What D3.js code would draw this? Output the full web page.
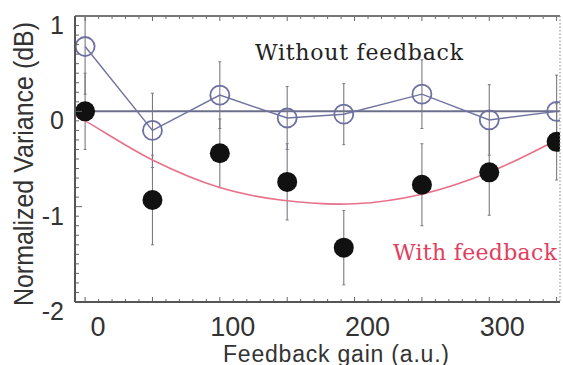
<!DOCTYPE html>
<html>
<head>
<meta charset="utf-8">
<script src="https://cdn.jsdelivr.net/npm/d3@7"></script>
<style>
  html, body { margin: 0; padding: 0; background: #fff; }
  svg { display: block; }
</style>
</head>
<body>
<svg id="chart" width="563" height="365"></svg>
<script>
// Feedback gain values at which the variance was measured
const gain = [0, 50, 100, 150, 192, 250, 300, 350];

// Normalized variance without feedback (open circles) and its error
const withoutFb = [0.68, -0.20, 0.17, -0.07, -0.03, 0.18, -0.09, 0.00];
const withoutErr = [0.50, 0.39, 0.35, 0.33, 0.32, 0.36, 0.37, 0.38];

// Normalized variance with feedback (filled circles) and its error
const withFb = [0.0, -0.93, -0.44, -0.74, -1.43, -0.77, -0.64, -0.32];
const withErr = [0.40, 0.47, 0.36, 0.40, 0.39, 0.43, 0.45, 0.40];

// Expected curve with feedback
const curveGain = [-7, 0, 50, 100, 145, 200, 250, 300, 350];
const curveVal = [-0.05, -0.10, -0.51, -0.80, -0.93, -0.97, -0.87, -0.64, -0.30];

// Axis ticks
const xTicks = [0, 100, 200, 300];
const yTicks = [1, 0, -1, -2];

const svg = d3.select("#chart");
const plotLeft = 75, plotRight = 560, plotTop = 16, plotBottom = 302;

const x = d3.scaleLinear().domain([-7.5, 352.5]).range([plotLeft, plotRight]);
const y = d3.scaleLinear().domain([-2, 1]).range([plotBottom, plotTop]);

svg.append("defs").append("clipPath").attr("id", "plotClip")
  .append("rect").attr("x", plotLeft).attr("y", plotTop)
  .attr("width", plotRight - plotLeft).attr("height", plotBottom - plotTop);

const plot = svg.append("g").attr("clip-path", "url(#plotClip)");

// minor / major ticks on the frame, pointing inward
const frame = svg.append("g").attr("stroke", "#666").attr("stroke-width", 1);
d3.range(-2, 1.001, 0.1).forEach(v => {
  const major = Math.abs(v - Math.round(v)) < 1e-6;
  frame.append("line").attr("x1", plotLeft).attr("x2", plotLeft + (major ? 7 : 4))
    .attr("y1", y(v)).attr("y2", y(v));
});
d3.range(0, 351, 10).forEach(v => {
  const major = v % 50 === 0;
  frame.append("line").attr("x1", x(v)).attr("x2", x(v))
    .attr("y1", plotTop).attr("y2", plotTop + (major ? 5 : 3));
  frame.append("line").attr("x1", x(v)).attr("x2", x(v))
    .attr("y1", plotBottom).attr("y2", plotBottom - (major ? 5 : 3));
});

// frame lines
svg.append("line").attr("x1", plotLeft).attr("x2", plotRight).attr("y1", plotTop).attr("y2", plotTop)
  .attr("stroke", "#777").attr("stroke-width", 2);
svg.append("line").attr("x1", plotLeft).attr("x2", plotRight).attr("y1", plotBottom).attr("y2", plotBottom)
  .attr("stroke", "#555").attr("stroke-width", 2);
svg.append("line").attr("x1", plotLeft).attr("x2", plotLeft).attr("y1", plotTop).attr("y2", plotBottom)
  .attr("stroke", "#555").attr("stroke-width", 2);
svg.append("line").attr("x1", plotRight).attr("x2", plotRight).attr("y1", plotTop).attr("y2", plotBottom)
  .attr("stroke", "#999").attr("stroke-width", 1.2).attr("stroke-dasharray", "1.5,2");

// zero reference line
plot.append("line").attr("x1", plotLeft).attr("x2", plotRight)
  .attr("y1", y(0)).attr("y2", y(0))
  .attr("stroke", "#6c6f8a").attr("stroke-width", 2);

// error bars
function errorBars(vals, errs) {
  gain.forEach((g, i) => {
    const gx = x(g);
    plot.append("line").attr("x1", gx).attr("x2", gx)
      .attr("y1", y(vals[i] + errs[i])).attr("y2", y(vals[i] - errs[i]))
      .attr("stroke", "#7a7a80").attr("stroke-width", 1.1);
    [vals[i] + errs[i], vals[i] - errs[i]].forEach(e => {
      plot.append("line").attr("x1", gx - 1.5).attr("x2", gx + 1.5)
        .attr("y1", y(e)).attr("y2", y(e))
        .attr("stroke", "#7a7a80").attr("stroke-width", 1);
    });
  });
}
errorBars(withoutFb, withoutErr);
errorBars(withFb, withErr);

// expected curve with feedback
plot.append("path")
  .datum(curveGain.map((g, i) => [g, curveVal[i]]))
  .attr("fill", "none").attr("stroke", "#e8708a").attr("stroke-width", 1.6)
  .attr("d", d3.line().x(d => x(d[0])).y(d => y(d[1])).curve(d3.curveCatmullRom));

// without feedback: connected open circles
plot.append("path")
  .datum(gain.map((g, i) => [g, withoutFb[i]]))
  .attr("fill", "none").attr("stroke", "#7073a0").attr("stroke-width", 1.4)
  .attr("d", d3.line().x(d => x(d[0])).y(d => y(d[1])));

plot.selectAll("circle.open").data(gain).enter().append("circle")
  .attr("class", "open")
  .attr("cx", d => x(d)).attr("cy", (d, i) => y(withoutFb[i]))
  .attr("r", 9.5).attr("fill", "none")
  .attr("stroke", "#6d70a0").attr("stroke-width", 1.8);

// with feedback: filled circles
plot.selectAll("circle.filled").data(gain).enter().append("circle")
  .attr("class", "filled")
  .attr("cx", d => x(d)).attr("cy", (d, i) => y(withFb[i]))
  .attr("r", 10).attr("fill", "#111");

// tick labels
const sans = "'Liberation Sans', Arial, sans-serif";
xTicks.forEach(v => {
  svg.append("text")
    .attr("x", x(v) + 13).attr("y", 336)
    .attr("text-anchor", "middle")
    .attr("font-family", sans).attr("font-size", 27).attr("fill", "#333")
    .text(v);
});
yTicks.forEach(v => {
  svg.append("text")
    .attr("x", 64).attr("y", y(v) + 18)
    .attr("text-anchor", "end")
    .attr("font-family", sans).attr("font-size", 25).attr("fill", "#333")
    .text(v);
});

// axis titles
svg.append("text")
  .attr("transform", "translate(33,164) rotate(-90) scale(1,1.1)")
  .attr("text-anchor", "middle")
  .attr("font-family", sans).attr("font-size", 25).attr("fill", "#333")
  .text("Normalized Variance (dB)");
svg.append("text")
  .attr("x", 336).attr("y", 361.5)
  .attr("text-anchor", "middle")
  .attr("font-family", sans).attr("font-size", 23).attr("fill", "#333")
  .attr("textLength", 226)
  .text("Feedback gain (a.u.)");

// series labels
const serif = "'DejaVu Serif', 'Liberation Serif', serif";
svg.append("text")
  .attr("x", 255).attr("y", 60)
  .attr("font-family", serif).attr("font-size", 22).attr("fill", "#222")
  .attr("textLength", 208)
  .text("Without feedback");
svg.append("text")
  .attr("x", 393).attr("y", 260)
  .attr("font-family", serif).attr("font-size", 22).attr("fill", "#e0405e")
  .attr("textLength", 164)
  .text("With feedback");
</script>
</body>
</html>
